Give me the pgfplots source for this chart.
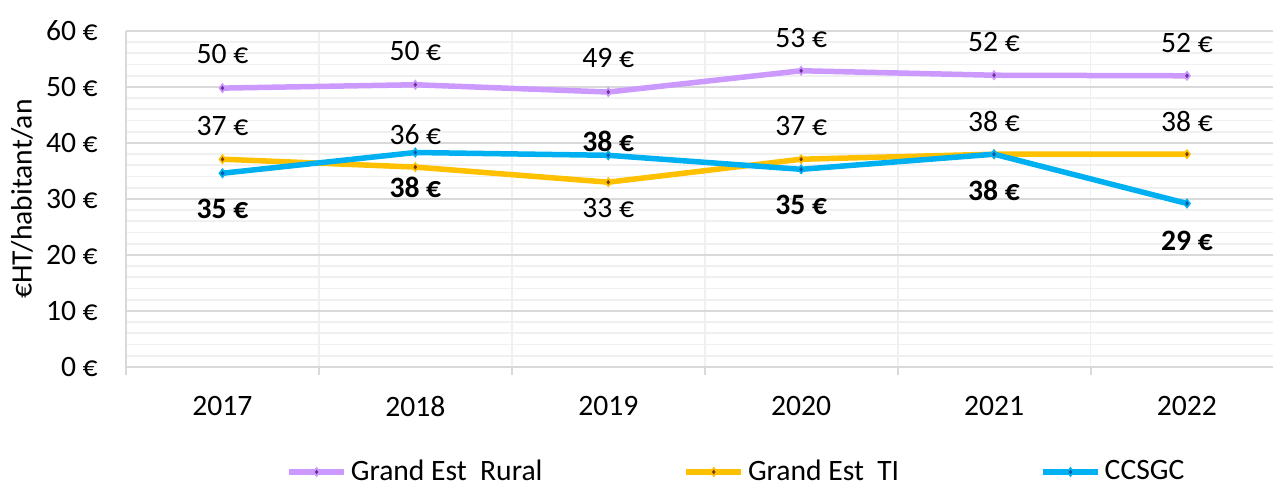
\documentclass[border=0pt]{standalone}
\usepackage{fontspec}
\setmainfont{Carlito}
\usepackage{pgfplots}
\pgfplotsset{compat=1.18}

\definecolor{rural}{RGB}{204,153,255}
\definecolor{ruraldk}{RGB}{112,48,160}
\definecolor{ti}{RGB}{255,192,0}
\definecolor{tidk}{RGB}{120,60,0}
\definecolor{cc}{RGB}{0,176,240}
\definecolor{ccdk}{RGB}{0,90,170}
\definecolor{majgrid}{RGB}{217,217,217}
\definecolor{mingrid}{RGB}{240,240,240}

% x: 0 = 2017 ... 5 = 2022 ; off = label shift in pt
\pgfplotstableread{
x y off
0 49.8 17
1 50.4 17
2 49.1 17
3 52.9 16.5
4 52.1 16.5
5 52.0 16.5
}\rural
\pgfplotstableread{
x y off
0 37.1 16.5
1 35.7 16
2 33.0 -13
3 37.1 16.5
4 38.0 16.5
5 38.0 16.5
}\ti
\pgfplotstableread{
x y off
0 34.6 -18
1 38.3 -17.5
2 37.8 7
3 35.3 -18
4 38.0 -18
5 29.2 -18.5
}\ccsgc

\begin{document}
\fontsize{14.8}{17}\selectfont
\begin{tikzpicture}
\begin{axis}[
    at={(0,0)}, anchor=south west,
    scale only axis,
    width=573.5pt, height=168pt,
    xmin=-0.5, xmax=5.446,
    ymin=0, ymax=60,
    axis x line*=bottom,
    axis y line*=left,
    axis line style={draw=majgrid, line width=1pt},
    xtick={0,...,5},
    xticklabels={2017,2018,2019,2020,2021,2022},
    minor xtick={-0.5,0.5,1.5,2.5,3.5,4.5},
    ytick={0,10,...,60},
    minor ytick={2,4,6,8,12,14,16,18,22,24,26,28,32,34,36,38,42,44,46,48,52,54,56,58},
    major tick length=0pt,
    minor tick length=4pt,
    tick align=outside,
    ytick style={draw=none},
    xtick style={draw=majgrid, line width=1pt},
    xmajorgrids=false,
    xminorgrids=true,
    ymajorgrids=true,
    yminorgrids=true,
    major grid style={draw=majgrid, line width=1pt},
    minor grid style={draw=mingrid, line width=0.9pt},
    /pgf/number format/assume math mode=true,
    yticklabel={\pgfmathprintnumber{\tick}~€},
    yticklabel style={xshift=-9pt},
    xticklabel style={yshift=-9.5pt},
    ylabel={€HT/habitant/an},
    ylabel style={at={(axis description cs:-0.0907,0.5)}, anchor=center, rotate=0},
    tick label style={font=\fontsize{14.8}{17}\selectfont},
    label style={font=\fontsize{14.8}{17}\selectfont},
    legend style={at={(axis description cs:0.533,-0.3125)}, anchor=center,
        draw=none, fill=none, legend columns=3,
        font=\fontsize{14.8}{17}\selectfont,
        /tikz/every even column/.append style={column sep=68.5pt}},
    legend image code/.code={
        \draw[mark repeat=2,mark phase=2] plot coordinates {(0pt,0pt) (13.75pt,0pt) (27.5pt,0pt)};},
    every axis plot/.append style={line width=2.75pt},
    nodes near coords={\pgfmathprintnumber[fixed,precision=0]{\pgfplotspointmeta}~€},
    visualization depends on={\thisrow{off}\as\off},
    every node near coord/.append style={anchor=center, yshift=\off pt, text=black,
        font=\fontsize{14.8}{17}\selectfont},
    clip=false,
]
\addplot[color=rural, mark=diamond*, mark size=2pt,
    mark options={fill=ruraldk, draw=rural, line width=0.8pt}]
    table[x=x, y=y] {\rural};
\addlegendentry{Grand Est~~Rural}
\addplot[color=ti, mark=diamond*, mark size=2pt,
    mark options={fill=tidk, draw=ti, line width=0.8pt}]
    table[x=x, y=y] {\ti};
\addlegendentry{Grand Est~~TI}
\addplot[color=cc, mark=diamond*, mark size=2pt,
    mark options={fill=ccdk, draw=cc, line width=0.8pt},
    every node near coord/.append style={font=\fontsize{14.8}{17}\selectfont\bfseries}]
    table[x=x, y=y] {\ccsgc};
\addlegendentry{CCSGC}
\end{axis}
\pgfresetboundingbox
\useasboundingbox (-63pt,-59pt) rectangle (573.5pt,183.5pt);
\end{tikzpicture}
\end{document}
